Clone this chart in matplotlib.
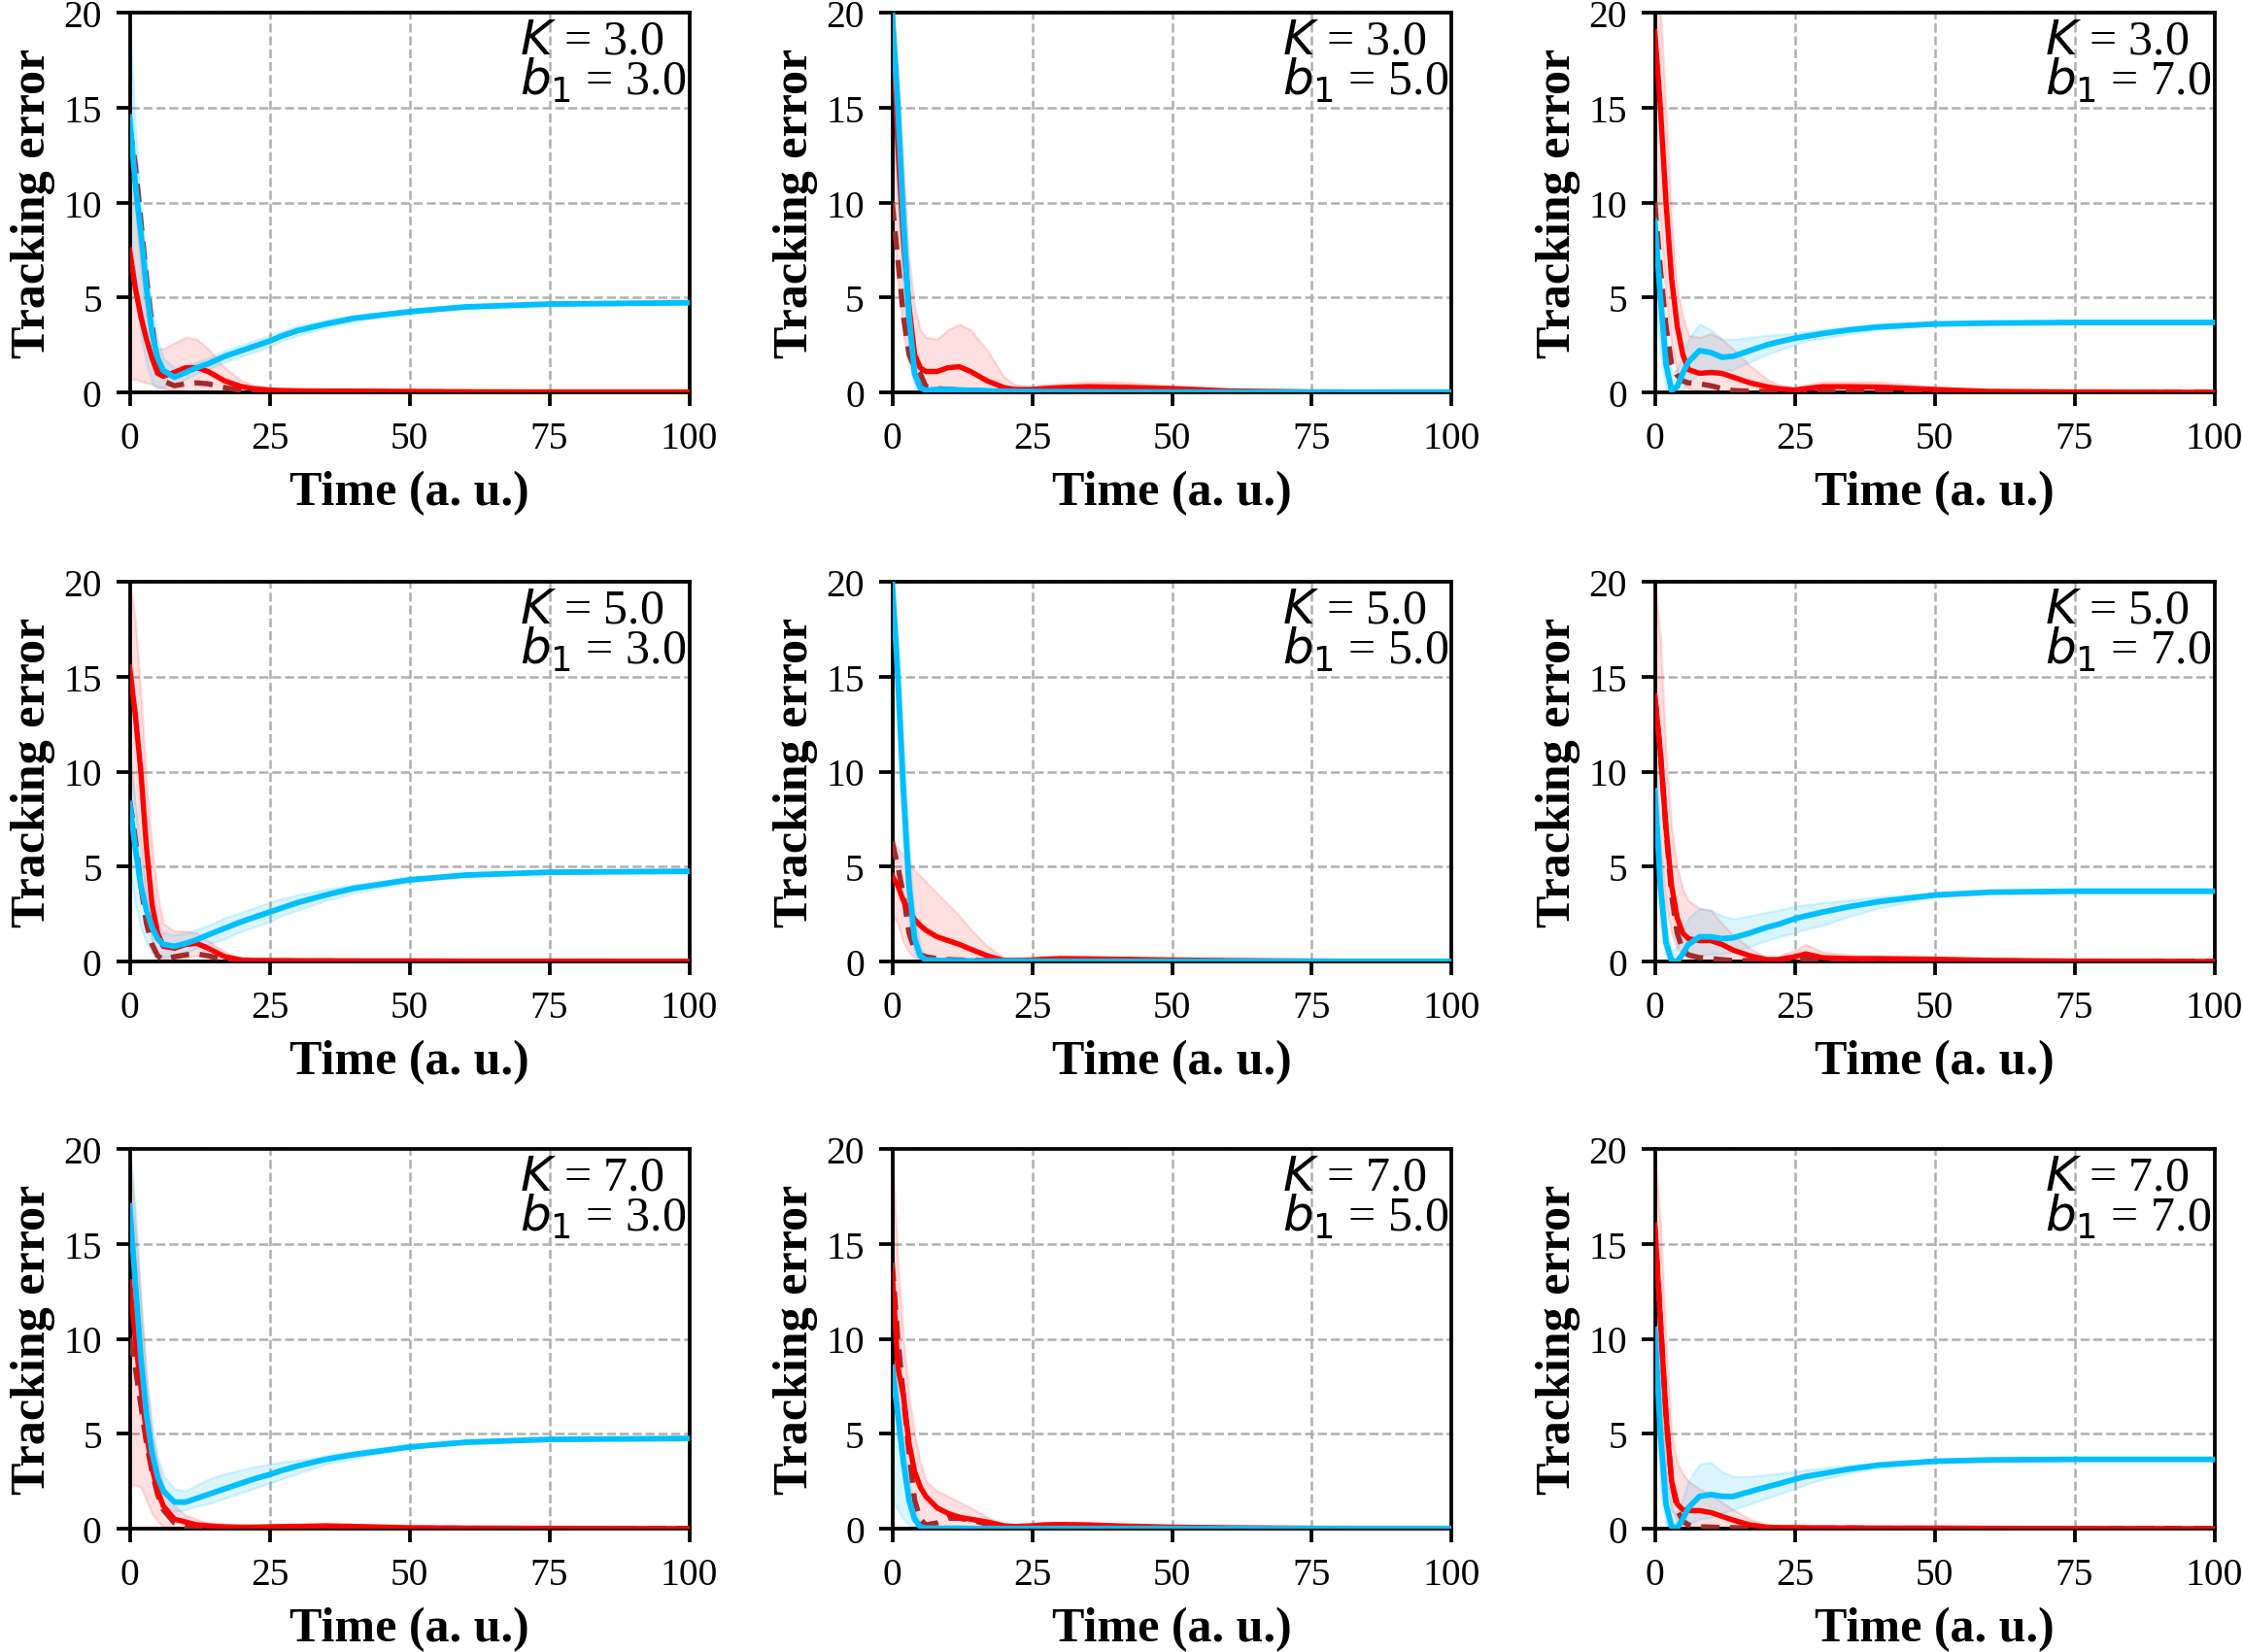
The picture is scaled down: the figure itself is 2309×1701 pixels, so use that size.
import numpy as np
import matplotlib
matplotlib.use("Agg")
import matplotlib.pyplot as plt

# ── Time grid (a. u.) shared by every panel
T = [0, 1, 2, 3, 4, 5, 6, 8, 10, 12, 14, 17, 20, 22, 25, 27, 30, 35, 40, 50, 60, 75, 100]

K_VALS = [3.0, 5.0, 7.0]     # rows
B1_VALS = [3.0, 5.0, 7.0]    # columns

# ── K = 3, b1 = 3
RED_33    = [7.5, 5.5, 4.0, 2.8, 1.8, 1.0, 0.85, 1.05, 1.3, 1.3, 1.1, 0.6, 0.3, 0.2, 0.12, 0.1, 0.08, 0.07, 0.07, 0.05, 0.03, 0.02, 0.02]
RED_33_HI = [14, 10, 6.5, 4.0, 2.8, 2.3, 2.3, 2.6, 2.9, 2.8, 2.3, 1.3, 0.6, 0.4, 0.25, 0.2, 0.15, 0.12, 0.12, 0.08, 0.05, 0.03, 0.02]
RED_33_LO = [0.7, 0.7, 0.6, 0.5, 0.4, 0.3, 0.2, 0.1, 0.05, 0.05, 0.05, 0.02, 0, 0, 0, 0, 0, 0, 0, 0, 0, 0, 0]
BRN_33    = [14, 12, 9, 6, 3.5, 1.5, 0.6, 0.35, 0.45, 0.5, 0.45, 0.25, 0.1, 0.06, 0.04, 0.03, 0.03, 0.03, 0.03, 0.02, 0.02, 0.01, 0.01]
BLU_33    = [14.5, 11, 8.4, 5.5, 3.1, 1.8, 1.15, 0.8, 1.05, 1.3, 1.5, 1.9, 2.2, 2.4, 2.7, 2.95, 3.25, 3.6, 3.9, 4.25, 4.5, 4.65, 4.72]
BLU_33_HI = [20, 14, 10, 7, 4.5, 2.8, 1.8, 1.3, 1.4, 1.6, 1.8, 2.2, 2.5, 2.7, 3.0, 3.2, 3.5, 3.8, 4.05, 4.35, 4.55, 4.68, 4.73]
BLU_33_LO = [8, 5, 3, 1.5, 0.5, 0.2, 0.3, 0.4, 0.7, 1.0, 1.2, 1.6, 1.9, 2.1, 2.4, 2.7, 3.0, 3.4, 3.75, 4.15, 4.45, 4.62, 4.71]

# ── K = 3, b1 = 5
RED_35    = [20, 13, 8, 4.5, 2.0, 1.3, 1.1, 1.1, 1.3, 1.35, 1.1, 0.6, 0.25, 0.15, 0.15, 0.2, 0.25, 0.3, 0.28, 0.2, 0.08, 0.02, 0.01]
RED_35_HI = [20, 17, 12, 7, 4.5, 3.3, 2.9, 2.8, 3.3, 3.6, 3.3, 2.2, 0.8, 0.4, 0.3, 0.4, 0.45, 0.55, 0.55, 0.35, 0.15, 0.05, 0.01]
RED_35_LO = [10, 6, 3, 1.5, 0.5, 0.2, 0.1, 0.05, 0.05, 0.05, 0.05, 0.05, 0.05, 0.05, 0.05, 0.06, 0.08, 0.1, 0.1, 0.08, 0.03, 0, 0]
BRN_35    = [10, 7, 4, 2, 1.3, 1.0, 0.3, 0.2, 0.15, 0.12, 0.1, 0.08, 0.06, 0.05, 0.05, 0.05, 0.05, 0.04, 0.04, 0.03, 0.02, 0.01, 0.01]
BLU_35    = [20, 15, 9, 4, 1.0, 0.25, 0.1, 0.15, 0.15, 0.12, 0.1, 0.08, 0.06, 0.05, 0.05, 0.04, 0.04, 0.03, 0.02, 0.02, 0.01, 0.01, 0.01]
BLU_35_HI = [20, 17, 11, 6, 2, 0.6, 0.3, 0.3, 0.3, 0.25, 0.2, 0.15, 0.1, 0.09, 0.08, 0.07, 0.06, 0.05, 0.04, 0.03, 0.02, 0.02, 0.02]
BLU_35_LO = [14, 10, 5, 2, 0.3, 0.05, 0, 0.05, 0.05, 0.05, 0.03, 0.03, 0.02, 0.02, 0.02, 0.02, 0.02, 0.01, 0.01, 0.01, 0, 0, 0]

# ── K = 3, b1 = 7
RED_37    = [19, 15, 10, 6, 3.5, 2.0, 1.2, 1.0, 1.05, 1.0, 0.8, 0.5, 0.3, 0.2, 0.12, 0.2, 0.3, 0.3, 0.28, 0.15, 0.05, 0.02, 0.0]
RED_37_HI = [20, 20, 15, 9, 5.5, 4, 3.0, 2.9, 3.1, 2.8, 2.3, 1.4, 0.7, 0.4, 0.25, 0.4, 0.55, 0.55, 0.55, 0.3, 0.1, 0.04, 0.01]
RED_37_LO = [12, 9, 5, 2.5, 1, 0.5, 0.2, 0.1, 0.05, 0.05, 0.05, 0.03, 0.02, 0.02, 0.02, 0.05, 0.1, 0.1, 0.08, 0.05, 0.02, 0, 0]
BRN_37    = [10, 6.5, 3.5, 1.5, 0.9, 0.6, 0.5, 0.45, 0.35, 0.2, 0.1, 0.06, 0.05, 0.05, 0.05, 0.04, 0.04, 0.04, 0.03, 0.03, 0.02, 0.01, 0.01]
BLU_37    = [9, 5, 1.5, 0.1, 0.3, 1.0, 1.6, 2.2, 2.1, 1.85, 1.9, 2.2, 2.5, 2.65, 2.85, 2.95, 3.1, 3.3, 3.45, 3.6, 3.65, 3.68, 3.68]
BLU_37_HI = [12, 7, 3, 1, 1.2, 2.0, 2.8, 3.6, 3.3, 2.8, 2.8, 2.9, 3.0, 3.05, 3.1, 3.2, 3.3, 3.45, 3.55, 3.65, 3.68, 3.7, 3.7]
BLU_37_LO = [5, 2, 0.2, 0, 0, 0.1, 0.5, 1.0, 1.2, 1.1, 1.2, 1.6, 2.0, 2.2, 2.5, 2.7, 2.85, 3.1, 3.3, 3.55, 3.62, 3.66, 3.66]

# ── K = 5, b1 = 3
RED_53    = [15.5, 13, 10, 6, 3, 1.5, 0.8, 0.7, 0.9, 0.95, 0.7, 0.25, 0.08, 0.06, 0.05, 0.05, 0.04, 0.04, 0.03, 0.03, 0.02, 0.02, 0.01]
RED_53_HI = [20, 18, 14, 9.5, 6, 3.5, 2.0, 1.6, 1.6, 1.5, 1.1, 0.5, 0.15, 0.1, 0.08, 0.07, 0.06, 0.05, 0.05, 0.04, 0.03, 0.02, 0.02]
RED_53_LO = [11, 8, 6, 3, 1, 0.3, 0.1, 0.1, 0.2, 0.3, 0.2, 0.05, 0.02, 0.02, 0.02, 0.02, 0.02, 0.02, 0.01, 0.01, 0.01, 0, 0]
BRN_53    = [8.5, 6.5, 4, 2, 0.9, 0.3, 0.1, 0.25, 0.35, 0.4, 0.3, 0.1, 0.03, 0.02, 0.02, 0.02, 0.02, 0.02, 0.02, 0.01, 0.01, 0.01, 0.01]
BLU_53    = [8.3, 6, 4, 2.7, 1.8, 1.2, 0.9, 0.8, 0.95, 1.15, 1.4, 1.75, 2.1, 2.3, 2.6, 2.8, 3.1, 3.5, 3.85, 4.3, 4.55, 4.7, 4.75]
BLU_53_HI = [11, 8, 5.5, 3.8, 2.7, 1.9, 1.5, 1.4, 1.5, 1.7, 1.9, 2.3, 2.6, 2.8, 3.1, 3.3, 3.5, 3.8, 4.05, 4.4, 4.6, 4.72, 4.76]
BLU_53_LO = [5, 3, 1.8, 1.0, 0.4, 0.1, 0.2, 0.3, 0.5, 0.7, 0.9, 1.2, 1.6, 1.8, 2.1, 2.4, 2.7, 3.2, 3.6, 4.2, 4.5, 4.68, 4.74]

# ── K = 5, b1 = 5
RED_55    = [4.5, 4.0, 3.2, 2.7, 2.2, 1.9, 1.65, 1.3, 1.1, 0.9, 0.65, 0.3, 0.05, 0.05, 0.08, 0.12, 0.15, 0.14, 0.12, 0.08, 0.05, 0.02, 0.0]
RED_55_HI = [6.5, 6.0, 5.6, 5.2, 4.8, 4.5, 4.2, 3.6, 3.0, 2.4, 1.7, 0.8, 0.2, 0.15, 0.2, 0.25, 0.3, 0.25, 0.2, 0.15, 0.1, 0.04, 0.01]
RED_55_LO = [2.5, 2, 1.0, 0.5, 0.2, 0.1, 0.05, 0.05, 0.05, 0.05, 0.05, 0.02, 0, 0, 0.02, 0.04, 0.05, 0.05, 0.05, 0.03, 0.02, 0, 0]
BRN_55    = [6.3, 5, 3.5, 1.5, 0.6, 0.35, 0.25, 0.15, 0.1, 0.08, 0.06, 0.05, 0.04, 0.04, 0.04, 0.03, 0.03, 0.03, 0.03, 0.02, 0.02, 0.01, 0.01]
BLU_55    = [20, 15, 9, 4, 1.2, 0.3, 0.08, 0.06, 0.05, 0.04, 0.03, 0.03, 0.02, 0.02, 0.02, 0.01, 0.01, 0.01, 0.01, 0.01, 0.01, 0.01, 0.01]
BLU_55_HI = [20, 17, 11, 6, 2.5, 0.8, 0.3, 0.15, 0.1, 0.08, 0.06, 0.05, 0.04, 0.04, 0.03, 0.03, 0.02, 0.02, 0.02, 0.02, 0.01, 0.01, 0.01]
BLU_55_LO = [18, 12, 6, 2, 0.4, 0.05, 0, 0, 0, 0, 0, 0, 0, 0, 0, 0, 0, 0, 0, 0, 0, 0, 0]

# ── K = 5, b1 = 7
RED_57    = [14, 11, 7, 4.0, 2.3, 1.5, 1.2, 1.1, 1.1, 0.9, 0.6, 0.3, 0.1, 0.1, 0.25, 0.4, 0.2, 0.15, 0.15, 0.12, 0.06, 0.02, 0.0]
RED_57_HI = [20, 17, 11, 7, 5, 3.8, 3.2, 2.8, 2.7, 2.0, 1.4, 0.7, 0.2, 0.25, 0.6, 0.9, 0.5, 0.35, 0.3, 0.2, 0.1, 0.04, 0.01]
RED_57_LO = [8, 6, 3, 1.5, 0.7, 0.4, 0.2, 0.1, 0.1, 0.05, 0.05, 0.03, 0.02, 0.02, 0.05, 0.1, 0.05, 0.05, 0.05, 0.04, 0.02, 0, 0]
BRN_57    = [14, 11, 7, 3.5, 1.5, 0.6, 0.35, 0.2, 0.15, 0.1, 0.05, 0.05, 0.04, 0.04, 0.08, 0.12, 0.06, 0.04, 0.04, 0.03, 0.02, 0.01, 0.01]
BLU_57    = [9, 4, 1.0, 0.05, 0.0, 0.4, 0.9, 1.3, 1.3, 1.2, 1.25, 1.5, 1.8, 1.95, 2.25, 2.4, 2.6, 2.9, 3.15, 3.5, 3.65, 3.7, 3.7]
BLU_57_HI = [12, 6, 2, 0.5, 0.8, 1.6, 2.3, 2.8, 2.7, 2.4, 2.25, 2.4, 2.6, 2.7, 2.9, 3.0, 3.1, 3.25, 3.4, 3.6, 3.68, 3.72, 3.72]
BLU_57_LO = [6, 2, 0.2, 0, 0, 0, 0.1, 0.3, 0.4, 0.4, 0.5, 0.8, 1.1, 1.3, 1.5, 1.7, 1.9, 2.4, 2.8, 3.4, 3.6, 3.68, 3.68]

# ── K = 7, b1 = 3
RED_73    = [13, 10, 7.5, 5, 3.2, 2.0, 1.2, 0.5, 0.35, 0.2, 0.15, 0.1, 0.08, 0.08, 0.1, 0.11, 0.12, 0.15, 0.12, 0.05, 0.03, 0.02, 0.0]
RED_73_HI = [20, 16, 12, 8, 5, 3.5, 2.2, 1.2, 0.7, 0.5, 0.3, 0.2, 0.15, 0.15, 0.15, 0.18, 0.2, 0.22, 0.2, 0.1, 0.05, 0.03, 0.01]
RED_73_LO = [2.3, 2.3, 2.2, 1.5, 0.8, 0.4, 0.1, 0.05, 0.05, 0.05, 0.03, 0.03, 0.02, 0.02, 0.03, 0.04, 0.05, 0.05, 0.05, 0.02, 0.01, 0, 0]
BRN_73    = [10, 8.5, 6.5, 4.5, 3, 1.8, 1.0, 0.3, 0.1, 0.08, 0.06, 0.05, 0.05, 0.05, 0.05, 0.05, 0.05, 0.05, 0.04, 0.03, 0.02, 0.01, 0.01]
BLU_73    = [17, 13, 9, 6, 4, 2.7, 2.0, 1.4, 1.4, 1.6, 1.8, 2.1, 2.4, 2.6, 2.85, 3.05, 3.3, 3.65, 3.9, 4.3, 4.55, 4.7, 4.75]
BLU_73_HI = [20, 17, 12, 8, 5.5, 3.8, 2.8, 2.1, 2.0, 2.3, 2.6, 2.9, 3.1, 3.25, 3.4, 3.5, 3.6, 3.85, 4.1, 4.4, 4.6, 4.72, 4.76]
BLU_73_LO = [13, 9, 6, 4, 2.5, 1.6, 1.2, 0.9, 1.0, 1.2, 1.3, 1.6, 1.9, 2.1, 2.4, 2.6, 2.9, 3.4, 3.7, 4.25, 4.5, 4.68, 4.74]

# ── K = 7, b1 = 5
RED_75    = [13.5, 8.5, 7, 4.5, 3.0, 2.2, 1.7, 1.1, 0.8, 0.6, 0.5, 0.35, 0.15, 0.12, 0.15, 0.2, 0.22, 0.2, 0.15, 0.08, 0.05, 0.02, 0.0]
RED_75_HI = [20, 14, 10, 7, 5, 3.5, 2.5, 2.0, 1.7, 1.4, 1.1, 0.6, 0.2, 0.2, 0.25, 0.28, 0.3, 0.28, 0.22, 0.12, 0.07, 0.03, 0.01]
RED_75_LO = [9, 5, 3, 1.5, 0.7, 0.3, 0.1, 0.05, 0.1, 0.1, 0.1, 0.1, 0.05, 0.05, 0.05, 0.08, 0.1, 0.1, 0.08, 0.04, 0.02, 0, 0]
BRN_75    = [14, 10, 7, 4, 1.5, 0.5, 0.2, 0.3, 0.55, 0.55, 0.45, 0.25, 0.1, 0.07, 0.05, 0.05, 0.05, 0.05, 0.04, 0.03, 0.02, 0.01, 0.01]
BLU_75    = [8.5, 6, 3.5, 1.5, 0.5, 0.1, 0.03, 0.02, 0.02, 0.02, 0.01, 0.01, 0.01, 0.01, 0.01, 0.01, 0.01, 0.01, 0.01, 0.01, 0.01, 0.01, 0.01]
BLU_75_HI = [10, 7.5, 5, 2.5, 1.2, 0.4, 0.1, 0.05, 0.04, 0.03, 0.03, 0.02, 0.02, 0.02, 0.02, 0.02, 0.02, 0.02, 0.02, 0.02, 0.01, 0.01, 0.01]
BLU_75_LO = [1.5, 1.0, 0.5, 0.2, 0.05, 0, 0, 0, 0, 0, 0, 0, 0, 0, 0, 0, 0, 0, 0, 0, 0, 0, 0]

# ── K = 7, b1 = 7
RED_77    = [16, 11, 6, 2.5, 1.3, 1.0, 0.95, 0.95, 0.85, 0.65, 0.45, 0.2, 0.08, 0.06, 0.05, 0.05, 0.04, 0.04, 0.03, 0.03, 0.02, 0.01, 0.0]
RED_77_HI = [20, 16, 10, 5, 3.5, 2.9, 2.5, 2.1, 1.8, 1.4, 1.0, 0.5, 0.2, 0.15, 0.1, 0.1, 0.08, 0.07, 0.06, 0.05, 0.04, 0.02, 0.01]
RED_77_LO = [12, 7, 3, 1, 0.4, 0.2, 0.1, 0.1, 0.1, 0.08, 0.05, 0.03, 0.02, 0.02, 0.02, 0.02, 0.02, 0.01, 0.01, 0.01, 0, 0, 0]
BRN_77    = [16, 11, 6, 2.5, 1.0, 0.4, 0.2, 0.1, 0.08, 0.06, 0.05, 0.05, 0.04, 0.04, 0.03, 0.03, 0.03, 0.03, 0.02, 0.02, 0.01, 0.01, 0.01]
BLU_77    = [10.5, 5, 1.3, 0.1, 0.05, 0.5, 1.1, 1.7, 1.8, 1.7, 1.7, 1.95, 2.2, 2.35, 2.6, 2.75, 2.9, 3.15, 3.35, 3.55, 3.62, 3.65, 3.65]
BLU_77_HI = [14, 8, 3, 1, 0.8, 1.6, 2.5, 3.4, 3.5, 3.0, 2.75, 2.75, 2.85, 2.9, 3.0, 3.1, 3.2, 3.35, 3.45, 3.6, 3.64, 3.66, 3.66]
BLU_77_LO = [7, 2, 0.2, 0, 0, 0, 0.2, 0.5, 0.6, 0.8, 1.0, 1.3, 1.6, 1.8, 2.1, 2.35, 2.6, 2.95, 3.2, 3.5, 3.6, 3.64, 3.64]

PANELS = [
    [(RED_33, RED_33_LO, RED_33_HI, BRN_33, BLU_33, BLU_33_LO, BLU_33_HI),
     (RED_35, RED_35_LO, RED_35_HI, BRN_35, BLU_35, BLU_35_LO, BLU_35_HI),
     (RED_37, RED_37_LO, RED_37_HI, BRN_37, BLU_37, BLU_37_LO, BLU_37_HI)],
    [(RED_53, RED_53_LO, RED_53_HI, BRN_53, BLU_53, BLU_53_LO, BLU_53_HI),
     (RED_55, RED_55_LO, RED_55_HI, BRN_55, BLU_55, BLU_55_LO, BLU_55_HI),
     (RED_57, RED_57_LO, RED_57_HI, BRN_57, BLU_57, BLU_57_LO, BLU_57_HI)],
    [(RED_73, RED_73_LO, RED_73_HI, BRN_73, BLU_73, BLU_73_LO, BLU_73_HI),
     (RED_75, RED_75_LO, RED_75_HI, BRN_75, BLU_75, BLU_75_LO, BLU_75_HI),
     (RED_77, RED_77_LO, RED_77_HI, BRN_77, BLU_77, BLU_77_LO, BLU_77_HI)],
]

# ── Style
plt.rcParams.update({
    "font.family":       "Liberation Serif",
    "mathtext.fontset":  "dejavusans",
    "font.size":         10,
    "xtick.labelsize":   9.5,
    "ytick.labelsize":   9.5,
    "axes.linewidth":    0.9,
    "xtick.major.size":  3.4,
    "ytick.major.size":  3.4,
    "xtick.major.width": 0.9,
    "ytick.major.width": 0.9,
})

RED, BROWN, BLUE = "#ff0000", "#a52a2a", "#00bfff"

fig = plt.figure(figsize=(2309 / 300, 1702 / 300), dpi=300)

# axes boxes placed to match the reference pixel grid
LEFTS   = [133.5 / 2309, 918.5 / 2309, 1703.5 / 2309]
BOTTOMS = [1 - 405 / 1702, 1 - 991 / 1702, 1 - 1575 / 1702]
W, H = 576 / 2309, 391 / 1702

for i, k in enumerate(K_VALS):
    for j, b1 in enumerate(B1_VALS):
        red, red_lo, red_hi, brn, blu, blu_lo, blu_hi = PANELS[i][j]
        ax = fig.add_axes([LEFTS[j], BOTTOMS[i], W, H])

        ax.fill_between(T, red_lo, red_hi, color=RED, alpha=0.12, lw=0.6, zorder=2)
        ax.fill_between(T, blu_lo, blu_hi, color=BLUE, alpha=0.14, lw=0.6, zorder=2)
        ax.plot(T, red, color=RED, lw=1.3, zorder=4)
        ax.plot(T, brn, color=BROWN, lw=1.3, ls=(0, (3.5, 2)), zorder=3)
        ax.plot(T, blu, color=BLUE, lw=1.4, zorder=5)

        ax.set_xlim(0, 100)
        ax.set_ylim(0, 20)
        ax.set_xticks([0, 25, 50, 75, 100])
        ax.set_yticks([0, 5, 10, 15, 20])
        ax.grid(True, ls="--", color="#b0b0b0", lw=0.6, zorder=0)
        ax.set_axisbelow(True)
        ax.set_xlabel("Time (a. u.)", fontsize=12, fontweight="bold", labelpad=3.5)
        ax.set_ylabel("Tracking error", fontsize=12, fontweight="bold", labelpad=2)

        ax.text(0.995, 0.985, f"$K$ = {k:.1f}\n$b_1$ = {b1:.1f}",
                transform=ax.transAxes, ha="right", va="top",
                multialignment="left", fontsize=12, linespacing=0.8, zorder=6)

fig.savefig("out.png", dpi=300)
